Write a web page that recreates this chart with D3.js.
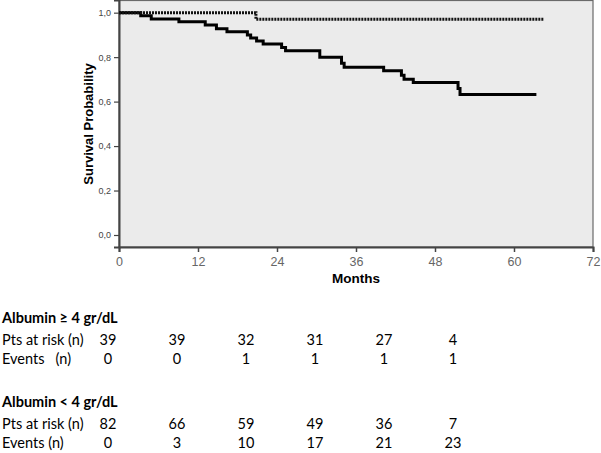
<!DOCTYPE html>
<html><head><meta charset="utf-8">
<script src="https://cdn.jsdelivr.net/npm/d3@7"></script>
<style>body{margin:0;background:#fff}svg{display:block}</style>
</head><body><svg id="c" width="601" height="453"></svg>
<script>
// Kaplan-Meier steps (months, survival)
const highTimes = [0, 20.8, 64.6];
const highSurv  = [1.0, 0.970, 0.970];
const lowTimes = [0, 3.3, 4.9, 9.1, 13.1, 14.8, 16.4, 19.5, 20.0, 20.9, 21.9, 24.7, 25.3, 30.5, 33.8, 34.2, 40.2, 42.9, 43.3, 44.7, 51.5, 51.8, 63.4];
const lowSurv  = [1.0, 0.986, 0.972, 0.959, 0.945, 0.928, 0.914, 0.900, 0.886, 0.873, 0.859, 0.843, 0.829, 0.799, 0.772, 0.754, 0.739, 0.719, 0.701, 0.686, 0.659, 0.632, 0.632];
const xTicks = [0, 12, 24, 36, 48, 60, 72];
const yTicks = [0, 0.2, 0.4, 0.6, 0.8, 1.0];
const groupLabels = ["Albumin \u2265 4 gr/dL", "Albumin < 4 gr/dL"];
const riskHigh   = [39, 39, 32, 31, 27, 4];
const eventsHigh = [0, 0, 1, 1, 1, 1];
const riskLow    = [82, 66, 59, 49, 36, 7];
const eventsLow  = [0, 3, 10, 17, 21, 23];

const svg = d3.select("#c");
const x = d3.scaleLinear().domain([0, 72]).range([119, 593]);
const y = d3.scaleLinear().domain([-0.054, 1.057]).range([247, 0]);

// plot background
svg.append("rect").attr("x", 119).attr("y", 0.5).attr("width", 474).attr("height", 246.5)
  .attr("fill", "#ebebeb").attr("stroke", "#6a6a6a").attr("stroke-width", 1.2);

// axes
const xAxis = d3.axisBottom(x).tickValues(xTicks).tickSize(5).tickFormat(d3.format("d"));
const gx = svg.append("g").attr("transform", "translate(0,247)").call(xAxis);
gx.select(".domain").attr("stroke", "#444").attr("stroke-width", 2);
gx.selectAll(".tick line").attr("stroke", "#444").attr("stroke-width", 1.5);
gx.selectAll(".tick text").attr("fill", "#666").attr("font-family", "Liberation Sans, Arial")
  .attr("font-size", 12.5).attr("dy", "0.9em");

const yAxis = d3.axisLeft(y).tickValues(yTicks).tickSize(5).tickFormat(d => d3.format(".1f")(d).replace(".", ","));
const gy = svg.append("g").attr("transform", "translate(119,0)").call(yAxis);
gy.select(".domain").attr("stroke", "#444").attr("stroke-width", 2);
gy.selectAll(".tick line").attr("stroke", "#444").attr("stroke-width", 1.2);
gy.selectAll(".tick text").attr("fill", "#444").attr("font-family", "Liberation Sans, Arial")
  .attr("font-size", 9);

svg.append("text").attr("x", 356).attr("y", 283).attr("text-anchor", "middle")
  .attr("font-family", "Liberation Sans, Arial").attr("font-weight", "bold").attr("font-size", 13.5)
  .text("Months");
svg.append("text").attr("transform", "translate(93,124) rotate(-90)").attr("text-anchor", "middle")
  .attr("font-family", "Liberation Sans, Arial").attr("font-weight", "bold").attr("font-size", 13)
  .text("Survival Probability");

// curves
const line = d3.line().x(d => x(d[0])).y(d => y(d[1])).curve(d3.curveStepAfter);
const lowData = lowTimes.map((t, i) => [t, lowSurv[i]]);
const highData = highTimes.map((t, i) => [t, highSurv[i]]);
svg.append("path").datum(lowData).attr("d", line).attr("fill", "none")
  .attr("stroke", "#000").attr("stroke-width", 3);
svg.append("path").datum(highData).attr("d", line).attr("fill", "none")
  .attr("stroke", "#111").attr("stroke-width", 3).attr("stroke-dasharray", "2,1");

// risk table
const col = d3.scaleLinear().domain([0, 5]).range([108, 453]);
const font = "Lato, 'Open Sans', sans-serif";
const groups = [
  {label: groupLabels[0], risk: riskHigh, ev: eventsHigh, y0: 323, evLabel: "Events   (n)"},
  {label: groupLabels[1], risk: riskLow,  ev: eventsLow,  y0: 407, evLabel: "Events (n)"}
];
groups.forEach(g => {
  svg.append("text").attr("x", 2).attr("y", g.y0).attr("font-family", font)
    .attr("font-weight", "bold").attr("font-size", 14.5).text(g.label);
  svg.append("text").attr("x", 2).attr("y", g.y0 + 22).attr("font-family", font)
    .attr("font-size", 14.5).style("white-space", "pre").text("Pts at risk (n)");
  svg.append("text").attr("x", 2).attr("y", g.y0 + 41).attr("font-family", font)
    .attr("font-size", 14.5).style("white-space", "pre").text(g.evLabel);
  g.risk.forEach((v, i) => svg.append("text").attr("x", col(i)).attr("y", g.y0 + 22)
    .attr("text-anchor", "middle").attr("font-family", font).attr("font-size", 14.5).text(v));
  g.ev.forEach((v, i) => svg.append("text").attr("x", col(i)).attr("y", g.y0 + 41)
    .attr("text-anchor", "middle").attr("font-family", font).attr("font-size", 14.5).text(v));
});
</script></body></html>
